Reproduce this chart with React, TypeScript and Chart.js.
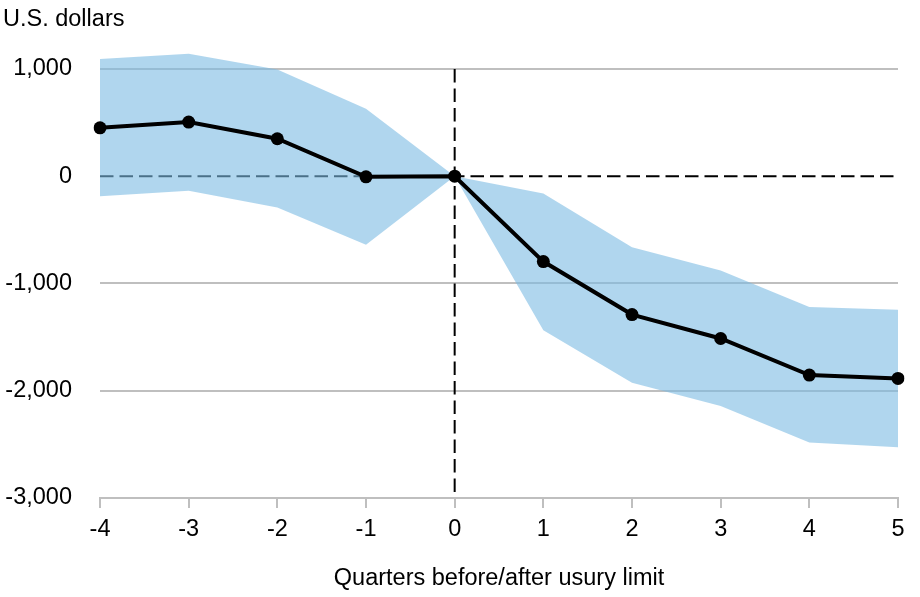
import React, { useEffect, useRef } from "react";
import { Chart, registerables } from "chart.js";

Chart.register(...registerables);

const quarters = ["-4", "-3", "-2", "-1", "0", "1", "2", "3", "4", "5"];
const estimate = [451, 504, 349, -6, 0, -796, -1290, -1513, -1854, -1885];
const upperBand = [1092, 1142, 994, 628, 0, -162, -663, -879, -1220, -1244];
const lowerBand = [-186, -136, -292, -638, 0, -1436, -1925, -2142, -2483, -2526];
const yTicks = [-3000, -2000, -1000, 0, 1000];

const FONT = "'Liberation Sans', Arial, Helvetica, sans-serif";
const FS = 23.5;

const refLines = {
  id: "refLines",
  beforeDatasetsDraw(chart: any) {
    const { ctx, chartArea, scales } = chart;
    const y0 = scales.y.getPixelForValue(0);
    const x0 = scales.x.getPixelForValue(4);
    const yTop = scales.y.getPixelForValue(1000);
    const yBot = scales.y.getPixelForValue(-3000);
    ctx.save();
    ctx.strokeStyle = "#000";
    ctx.lineWidth = 2;
    ctx.setLineDash([13.5, 6]);
    ctx.beginPath();
    ctx.moveTo(chartArea.left, y0);
    ctx.lineTo(chartArea.right, y0);
    ctx.stroke();
    ctx.beginPath();
    ctx.moveTo(x0, yTop);
    ctx.lineTo(x0, yBot);
    ctx.stroke();
    ctx.restore();
  },
};

export default function App() {
  const ref = useRef<HTMLCanvasElement>(null);
  useEffect(() => {
    if (!ref.current) return;
    const chart = new Chart(ref.current, {
      type: "line",
      data: {
        labels: quarters,
        datasets: [
          {
            data: estimate,
            borderColor: "#000",
            backgroundColor: "#000",
            borderWidth: 4,
            pointRadius: 6.5,
            pointBackgroundColor: "#000",
            pointBorderWidth: 0,
            fill: false,
            tension: 0,
          },
          {
            data: upperBand,
            borderWidth: 0,
            pointRadius: 0,
            backgroundColor: "rgba(123,187,227,0.6)",
            borderColor: "rgba(0,0,0,0)",
            fill: "+1",
            tension: 0,
          },
          {
            data: lowerBand,
            borderWidth: 0,
            pointRadius: 0,
            borderColor: "rgba(0,0,0,0)",
            fill: false,
            tension: 0,
          },
        ],
      },
      options: {
        animation: false,
        responsive: false,
        layout: { padding: { left: 3, right: 22, top: 0, bottom: 0 } },
        plugins: {
          legend: { display: false },
          tooltip: { enabled: false },
          title: {
            display: true,
            text: "U.S. dollars",
            align: "start",
            color: "#000",
            font: { family: FONT, size: FS, weight: "normal", lineHeight: 1.2 },
            padding: { top: 4, bottom: 8 },
          },
        },
        scales: {
          x: {
            type: "category",
            offset: false,
            grid: {
              drawOnChartArea: false,
              drawTicks: true,
              tickLength: 10,
              color: "#bfbfbf",
              lineWidth: 2,
            },
            border: { display: true, color: "#bfbfbf", width: 2 },
            ticks: {
              color: "#000",
              font: { family: FONT, size: FS },
              padding: 7,
              maxRotation: 0,
            },
            title: {
              display: true,
              text: "Quarters before/after usury limit",
              color: "#000",
              font: { family: FONT, size: FS },
              padding: { top: 0, bottom: 4 },
            },
            afterFit(scale: any) {
              scale.height = 99;
            },
          },
          y: {
            min: -3000,
            max: 1250,
            afterBuildTicks(scale: any) {
              scale.ticks = yTicks.map((v) => ({ value: v }));
            },
            grid: {
              drawTicks: false,
              color: (c: any) => (c.tick && c.tick.value === 0 ? "rgba(0,0,0,0)" : "#bfbfbf"),
              lineWidth: 2,
            },
            border: { display: false },
            ticks: {
              color: "#000",
              font: { family: FONT, size: FS },
              padding: 28,
              callback: (v: any) => Number(v).toLocaleString("en-US"),
            },
            afterFit(scale: any) {
              scale.width = 97;
            },
          },
        },
      },
      plugins: [refLines],
    });
    return () => chart.destroy();
  }, []);
  return (
    <div style={{ position: "fixed", left: 0, top: 0, width: 920, height: 597, background: "#fff" }}>
      <canvas ref={ref} width={920} height={597} style={{ display: "block" }} />
    </div>
  );
}
